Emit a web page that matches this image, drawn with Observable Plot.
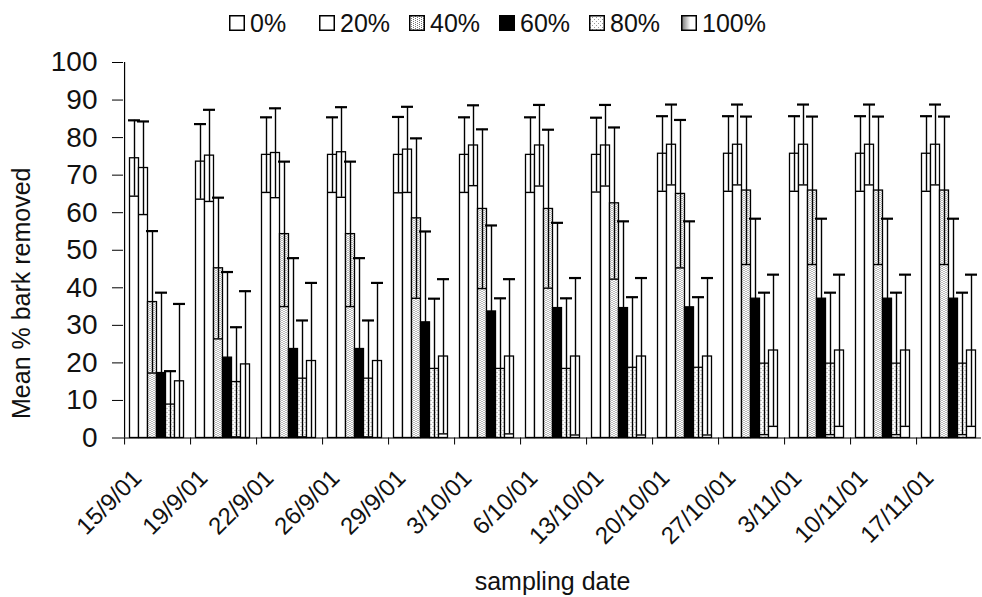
<!DOCTYPE html>
<html>
<head>
<meta charset="utf-8">
<script src="https://cdn.jsdelivr.net/npm/d3@7"></script>
<script src="https://cdn.jsdelivr.net/npm/@observablehq/plot@0.6"></script>
<style>
  body { margin: 0; background: #fff; font-family: "Liberation Sans", Arial, sans-serif; color: #111; }
  #legend { position: relative; height: 40px; }
  .item { position: absolute; top: 9px; display: flex; align-items: center; font-size: 25px; line-height: 28px; }
  .item svg { margin-right: 5px; }
  #chart svg { display: block; }
</style>
</head>
<body>
<svg width="0" height="0" style="position:absolute">
  <defs>
    <pattern id="fill40" width="4" height="4" patternUnits="userSpaceOnUse">
      <rect width="4" height="4" fill="#fff"/>
      <rect x="0" y="0" width="1" height="1" fill="#777"/>
      <rect x="2" y="1" width="1" height="1" fill="#777"/>
      <rect x="0" y="2" width="1" height="1" fill="#777"/>
      <rect x="2" y="3" width="1" height="1" fill="#777"/>
    </pattern>
    <pattern id="fill80" width="4" height="4" patternUnits="userSpaceOnUse">
      <rect width="4" height="4" fill="#fff"/>
      <rect x="1" y="0" width="1" height="1" fill="#999"/>
      <rect x="3" y="2" width="1" height="1" fill="#999"/>
    </pattern>
    <linearGradient id="fill100key" x1="0" x2="1" y1="0" y2="0">
      <stop offset="0" stop-color="#777"/>
      <stop offset="0.6" stop-color="#fff"/>
    </linearGradient>
  </defs>
</svg>
<div id="legend"></div>
<div id="chart"></div>
<script>
// Sampling dates (x groups) and treatment series (bars within each group)
const dates = ["15/9/01", "19/9/01", "22/9/01", "26/9/01", "29/9/01", "3/10/01", "6/10/01",
               "13/10/01", "20/10/01", "27/10/01", "3/11/01", "10/11/01", "17/11/01"];
const series = ["0%", "20%", "40%", "60%", "80%", "100%"];

// Mean % bark removed per series, one value per sampling date
const mean0   = [74.5, 73.6, 75.4, 75.4, 75.4, 75.4, 75.4, 75.4, 75.7, 75.7, 75.7, 75.7, 75.7];
const mean20  = [71.9, 75.2, 75.9, 76.1, 76.8, 77.9, 77.9, 77.9, 78.1, 78.1, 78.1, 78.1, 78.1];
const mean40  = [36.2, 45.2, 54.3, 54.3, 58.5, 61.0, 61.0, 62.5, 65.0, 65.9, 65.9, 65.9, 65.9];
const mean60  = [17.3, 21.4, 23.7, 23.7, 30.8, 33.7, 34.6, 34.6, 34.8, 37.1, 37.1, 37.1, 37.1];
const mean80  = [8.9, 14.9, 15.8, 15.8, 18.4, 18.4, 18.4, 18.7, 18.7, 19.8, 19.8, 19.8, 19.8];
const mean100 = [15.1, 19.6, 20.5, 20.5, 21.7, 21.7, 21.7, 21.7, 21.7, 23.3, 23.3, 23.3, 23.3];

// Error bar half-widths (±) per series
const err0   = [10.1, 10.0, 10.0, 10.0, 10.1, 10.0, 10.0, 9.9, 10.0, 10.0, 10.0, 10.0, 10.0];
const err20  = [12.4, 12.2, 11.9, 12.0, 11.4, 10.7, 10.8, 10.8, 10.7, 10.7, 10.7, 10.7, 10.7];
const err40  = [18.9, 18.8, 19.3, 19.3, 21.3, 21.2, 21.1, 20.2, 19.7, 19.7, 19.7, 19.7, 19.7];
const err60  = [21.4, 22.8, 24.2, 24.2, 24.2, 22.9, 22.7, 23.1, 22.9, 21.3, 21.3, 21.3, 21.3];
const err80  = [8.9, 14.6, 15.5, 15.5, 18.7, 18.8, 18.8, 18.8, 18.8, 18.9, 18.9, 18.9, 18.9];
const err100 = [20.6, 19.5, 20.8, 20.8, 20.6, 20.6, 20.9, 20.9, 20.9, 20.2, 20.2, 20.2, 20.2];

const yTicks = [0, 10, 20, 30, 40, 50, 60, 70, 80, 90, 100];

const means = [mean0, mean20, mean40, mean60, mean80, mean100];
const errs = [err0, err20, err40, err60, err80, err100];
const fills = ["#fff", "#fff", "url(#fill40)", "#000", "url(#fill80)", "#fff"];
const keyFills = ["#fff", "#fff", "url(#fill40)", "#000", "url(#fill80)", "url(#fill100key)"];

const rows = [];
dates.forEach((date, i) => series.forEach((s, j) => {
  rows.push({date, series: s, mean: means[j][i], err: errs[j][i]});
}));
const lowerCaps = rows.filter(d => d.mean - d.err > 0);

// Layout
const width = 982, height = 557;
const marginLeft = 121.5, marginRight = 0, marginTop = 22, marginBottom = 159.5;
const outerPad = 0.57;
const groupW = (width - marginLeft - marginRight) / dates.length;
const step = groupW / (series.length + 2 * outerPad);
const toGroupEdge = outerPad * step + step / 2; // from first bar centre to group's left edge

const chart = Plot.plot({
  width, height, marginLeft, marginRight, marginTop, marginBottom,
  style: {fontFamily: "'Liberation Sans', Arial, sans-serif", color: "#111", background: "#fff"},
  fx: {domain: dates, padding: 0},
  x: {domain: series, paddingInner: 0, paddingOuter: outerPad, axis: null},
  y: {domain: [0, 100]},
  color: {type: "ordinal", domain: series, range: fills},
  marks: [
    Plot.barY(rows, {fx: "date", x: "series", y: "mean", fill: "series", stroke: "#000", strokeWidth: 1.3}),
    Plot.ruleX(rows, {fx: "date", x: "series", y1: d => Math.max(0, d.mean - d.err), y2: d => d.mean + d.err, stroke: "#000", strokeWidth: 1.4}),
    Plot.tickY(rows, {fx: "date", x: "series", y: d => d.mean + d.err, stroke: "#000", strokeWidth: 2.2, insetLeft: -1.5, insetRight: -1.5}),
    Plot.tickY(lowerCaps, {fx: "date", x: "series", y: d => d.mean - d.err, stroke: "#000", strokeWidth: 1.4}),
    Plot.ruleY([0], {stroke: "#000", strokeWidth: 1.2}),
    // group boundary ticks below the x axis
    Plot.ruleX(dates, {fx: d => d, x: () => series[0], y1: 0, y2: 0, insetBottom: -7, dx: -toGroupEdge, stroke: "#000", strokeWidth: 1}),
    // y axis line
    Plot.ruleX(dates.slice(0, 1), {fx: d => d, x: () => series[0], y1: 0, y2: 100, dx: -toGroupEdge, stroke: "#000", strokeWidth: 1.2}),
    Plot.axisY({ticks: yTicks, tickSize: 11, tickPadding: 15, fontSize: 28, stroke: "#000",
      label: "Mean % bark removed", labelArrow: "none", labelAnchor: "center", labelOffset: 111}),
    Plot.axisFx({anchor: "bottom", tickSize: 0, tickPadding: 30, tickRotate: -45, fontSize: 24, dx: -19, dy: 6,
      label: "sampling date", labelArrow: "none", labelAnchor: "center", labelOffset: 152})
  ]
});
chart.querySelectorAll("[aria-label='y-axis label'] text, [aria-label='fx-axis label'] text").forEach(t => {
  t.setAttribute("font-size", "25");
  t.textContent = t.textContent.replace(/[\u2190-\u2193]/g, "").trim();
});
// the axis title sits a little below the frame's middle
const yTitle = chart.querySelector("[aria-label='y-axis label']");
if (yTitle) yTitle.setAttribute("transform", ((yTitle.getAttribute("transform") || "") + " translate(0,43)").trim());
document.getElementById("chart").append(chart);

// Legend row above the chart
const legend = document.getElementById("legend");
const keyLeft = [229, 319, 409, 499, 589, 681];
series.forEach((s, j) => {
  const item = document.createElement("div");
  item.className = "item";
  item.style.left = keyLeft[j] + "px";
  item.innerHTML = `<svg width="16" height="16"><rect x="0.75" y="0.75" width="14.5" height="14.5" fill="${keyFills[j]}" stroke="#000" stroke-width="1.5"/></svg><span>${s}</span>`;
  legend.append(item);
});
</script>
</body>
</html>
